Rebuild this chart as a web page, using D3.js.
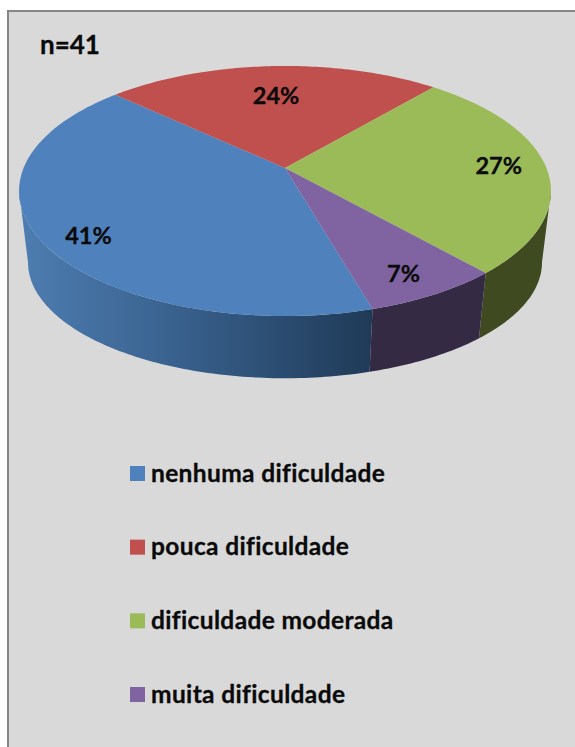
<!DOCTYPE html>
<html>
<head>
<meta charset="utf-8">
<script src="https://cdn.jsdelivr.net/npm/d3@7"></script>
<style>
    html, body { margin: 0; padding: 0; background: #fff; }
    svg { display: block; }
    text {
        font-family: Lato, "Open Sans", sans-serif;
        font-weight: 700;
        font-variant-ligatures: none;
        fill: #0a0a0a;
        stroke: #0a0a0a;
        stroke-width: 0.3px;
    }
</style>
</head>
<body>
<script>
var categories = ["nenhuma dificuldade", "pouca dificuldade", "dificuldade moderada", "muita dificuldade"];
var values = [41, 24, 27, 7];
var labels = ["41%", "24%", "27%", "7%"];
var sampleLabel = "n=41";
var topColors = ["#4f81bd", "#c0504d", "#9bbb59", "#8064a2"];

// label placement inside each slice (share of radius, turn in degrees)
var labelRadius = [0.85, 0.67, 0.82, 0.85];
var labelTurn = [-5.2, 0, -0.5, 1.4];

var width = 575, height = 747;
var tilt = 0.184; // perspective: near edge of the pie looks bigger
var firstAngle = 164; // degrees, clockwise from the top

var svg = d3.select("body").append("svg")
        .attr("width", width)
        .attr("height", height);

svg.append("rect")
        .attr("x", 8)
        .attr("y", 11)
        .attr("width", width)
        .attr("height", height)
        .attr("fill", "#d9d9d9")
        .attr("stroke", "#868686")
        .attr("stroke-width", 2);

// projected pie planes, a is the flat half width, b the flat half height
var topFace = {cx: 285, cy: 168, a: 261.4, b: 120.8};
var bottomFace = {cx: 285, cy: 241, a: 252.6, b: 112};

function project(face, angle, r) {
    var u = Math.sin(angle) * r;
    var v = -Math.cos(angle) * r;
    var w = 1 - tilt * v;
    return [face.cx + face.a * u / w, face.cy + face.b * v / w];
}

var pie = d3.pie()
        .sort(null)
        .startAngle(firstAngle * Math.PI / 180)
        .endAngle((firstAngle + 360) * Math.PI / 180);

var slices = pie(values);

function rimBetween(face, from, to) {
    var n = Math.ceil((to - from) * 60);
    return d3.range(n + 1).map(function (i) {
        return project(face, from + (to - from) * i / n, 1);
    });
}

function rim(face, d) {
    return rimBetween(face, d.startAngle, d.endAngle);
}

// the wall shows between the two outline extremes of the ellipse
var wallFrom = Math.acos(-tilt);
var wallTo = 2 * Math.PI - wallFrom;

function wallPath(d) {
    var from = d.startAngle, to = d.endAngle;
    // slices after the top of the pie wrap round, bring them back
    if (from >= 2 * Math.PI) {
        from -= 2 * Math.PI;
        to -= 2 * Math.PI;
    }
    from = Math.max(from, wallFrom);
    to = Math.min(to, wallTo);
    if (to <= from) {
        return null;
    }
    return line(rimBetween(topFace, from, to).concat(rimBetween(bottomFace, from, to).reverse())) + "Z";
}

var line = d3.line().curve(d3.curveLinear);

// side walls
var defs = svg.append("defs");
var wallStops = [
    [["0%", "#4d7cb0"], ["45%", "#38608c"], ["100%", "#1f3a57"]],
    [["0%", "#7a3735"], ["100%", "#7a3735"]],
    [["0%", "#404a21"], ["100%", "#3f4a20"]],
    [["0%", "#372a47"], ["100%", "#332a43"]]
];

wallStops.forEach(function (stops, i) {
    var gradient = defs.append("linearGradient")
            .attr("id", "wall-" + i)
            .attr("gradientUnits", "userSpaceOnUse")
            .attr("x1", 25)
            .attr("x2", i == 0 ? 373 : 545)
            .attr("y1", 0)
            .attr("y2", 0);
    stops.forEach(function (s) {
        gradient.append("stop").attr("offset", s[0]).attr("stop-color", s[1]);
    });
});

svg.append("g").selectAll("path")
        .data(slices)
        .enter()
        .append("path")
        .attr("d", wallPath)
        .attr("fill", function (d, i) {
            return "url(#wall-" + i + ")";
        });

// top face
svg.append("g").selectAll("path")
        .data(slices)
        .enter()
        .append("path")
        .attr("d", function (d) {
            return line([[topFace.cx, topFace.cy]].concat(rim(topFace, d))) + "Z";
        })
        .attr("fill", function (d, i) {
            return topColors[i];
        });

// percent labels
svg.append("g").selectAll("text")
        .data(slices)
        .enter()
        .append("text")
        .attr("transform", function (d, i) {
            var mid = (d.startAngle + d.endAngle) / 2 + labelTurn[i] * Math.PI / 180;
            return "translate(" + project(topFace, mid, labelRadius[i]) + ")";
        })
        .attr("dy", "0.35em")
        .attr("text-anchor", "middle")
        .attr("font-size", 23.5)
        .text(function (d, i) {
            return labels[i];
        });

svg.append("text")
        .attr("x", 40)
        .attr("y", 54)
        .attr("font-size", 26)
        .text(sampleLabel);

// legend
var legendY = d3.scalePoint()
        .domain(categories)
        .range([473.5, 694.5]);

var legend = svg.append("g").selectAll("g")
        .data(categories)
        .enter()
        .append("g")
        .attr("transform", function (d) {
            return "translate(130," + legendY(d) + ")";
        });

legend.append("rect")
        .attr("y", -7.5)
        .attr("width", 15)
        .attr("height", 15)
        .attr("fill", function (d, i) {
            return topColors[i];
        });

legend.append("text")
        .attr("x", 21)
        .attr("y", 8)
        .attr("font-size", 24.5)
        .attr("letter-spacing", 0.36)
        .text(function (d) {
            return d;
        });
</script>
</body>
</html>
